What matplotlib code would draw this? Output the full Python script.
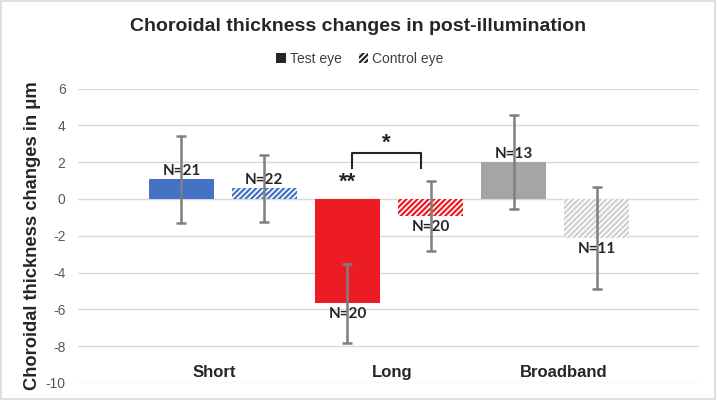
import matplotlib
matplotlib.use("Agg")
import matplotlib.pyplot as plt
from matplotlib.patches import Patch, Rectangle
from matplotlib import font_manager
import numpy as np

groups = ["Short", "Long", "Broadband"]
test_mean = [1.07, -5.67, 2.00]
test_sd = [2.36, 2.14, 2.54]
control_mean = [0.58, -0.91, -2.14]
control_sd = [1.83, 1.90, 2.78]
test_n = ["N=21", "N=20", "N=13"]
control_n = ["N=22", "N=20", "N=11"]
solid_colors = ["#4472C4", "#ED1C24", "#A5A5A5"]
hatch_colors = ["#4472C4", "#ED1C24", "#D0D0D0"]
yticks = [-10, -8, -6, -4, -2, 0, 2, 4, 6]

names = {f.name for f in font_manager.fontManager.ttflist}
narrow = "Liberation Sans Narrow" if "Liberation Sans Narrow" in names else "Liberation Sans"
plt.rcParams["font.family"] = ["Liberation Sans", "DejaVu Sans"]
plt.rcParams["hatch.linewidth"] = 1.6

fig = plt.figure(figsize=(7.17, 4.01), dpi=100)
ax = fig.add_axes([0.1088, 0.0449, 0.8661, 0.7344])

x = np.arange(len(groups))
w = 0.39
for i in range(len(groups)):
    ax.bar(x[i] - 0.25, test_mean[i], w, color=solid_colors[i], zorder=2)
    ax.bar(x[i] + 0.25, control_mean[i], w, facecolor="white",
           edgecolor=hatch_colors[i], hatch="//////", linewidth=0, zorder=2)

ax.errorbar(x - 0.25, test_mean, yerr=test_sd, fmt="none", ecolor="#7F7F7F",
            elinewidth=1.8, capsize=3.5, capthick=1.8, zorder=4)
ax.errorbar(x + 0.25, control_mean, yerr=control_sd, fmt="none", ecolor="#7F7F7F",
            elinewidth=1.8, capsize=3.5, capthick=1.8, zorder=4)

def nlabel(xp, val, txt):
    if val >= 0:
        ax.annotate(txt, (xp, val), xytext=(0, 1), textcoords="offset points",
                    ha="center", va="bottom", fontsize=11, fontweight="bold",
                    color="#262626", family=["Lato", "DejaVu Sans"], zorder=3)
    else:
        ax.annotate(txt, (xp, val), xytext=(0, -3), textcoords="offset points",
                    ha="center", va="top", fontsize=11, fontweight="bold",
                    color="#262626", family=["Lato", "DejaVu Sans"], zorder=3)

for i in range(len(groups)):
    nlabel(x[i] - 0.25, test_mean[i], test_n[i])
    nlabel(x[i] + 0.25, control_mean[i], control_n[i])

# category labels sit inside the plot, near the bottom
label_shift = [-0.05, 0.02, 0.05]
for i, g in enumerate(groups):
    ax.text(x[i] + label_shift[i], -9.45, g, ha="center", va="center",
            fontsize=12, fontweight="bold", color="#262626")

# significance marks for Long
ax.plot([0.777, 0.777, 1.193, 1.193], [1.7, 2.5, 2.5, 1.7], color="#262626", lw=1.5, zorder=3)
ax.text(0.985, 3.0, "*", ha="center", va="center", fontsize=16, fontweight="bold", color="#262626")
ax.text(0.75, 0.92, "**", ha="center", va="center", fontsize=16, fontweight="bold", color="#262626")

ax.set_xlim(-0.873, 2.867)
ax.set_ylim(-10, 6)
ax.set_yticks(yticks)
ax.set_yticklabels([str(t) for t in yticks], fontsize=10, color="#595959", family=[narrow, "DejaVu Sans"])
ax.set_xticks([])
ax.tick_params(axis="y", length=0, pad=9)
ax.grid(axis="y", color="#D9D9D9", lw=1, zorder=0)
for s in ax.spines.values():
    s.set_visible(False)

ax.set_ylabel("Choroidal thickness changes in μm", fontsize=13.2, fontweight="bold",
              color="#262626", labelpad=3)

fig.text(0.5, 0.935, "Choroidal thickness changes in post-illumination", ha="center",
         va="center", fontsize=14, fontweight="bold", color="#262626", family=[narrow, "DejaVu Sans"])

handles = [Patch(facecolor="#262626", edgecolor="none"),
           Patch(facecolor="white", edgecolor="#262626", hatch="//////", linewidth=0)]
fig.legend(handles, ["Test eye", "Control eye"], loc="center", bbox_to_anchor=(0.502, 0.853),
           ncol=2, frameon=False, fontsize=10, handlelength=0.7, handleheight=0.7,
           handletextpad=0.3, columnspacing=1.2, labelcolor="#404040",
           prop={"family": [narrow, "DejaVu Sans"], "size": 10})

fig.patches.append(Rectangle((0.002, 0.004), 0.995, 0.993, transform=fig.transFigure,
                             fill=False, edgecolor="#D9D9D9", lw=1.2))

fig.savefig("out.png", dpi=100)
